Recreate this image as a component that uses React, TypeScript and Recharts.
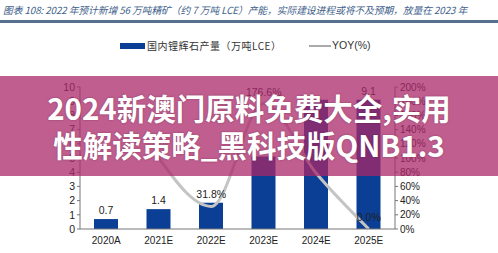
import { ComposedChart, Bar, Line, XAxis, YAxis, LabelList, Legend } from "recharts";

const years = ["2020A", "2021E", "2022E", "2023E", "2024E", "2025E"];
const output = [0.7, 1.4, 1.85, 5.1, 9.1, 9.1];
const yoy: (number | null)[] = [null, 100, 31.8, 176.6, 78.4, 0];
const showBarLabel = [true, true, false, false, false, true];
const showYoyLabel = [false, false, true, true, false, true];
const leftTicks = [0, 1, 2, 3, 4, 5, 6, 7, 8, 9, 10];
const rightTicks = [0, 20, 40, 60, 80, 100, 120, 140, 160, 180, 200];

const data = years.map((y, i) => ({
  year: y,
  output: output[i],
  yoy: yoy[i],
  barLabel: showBarLabel[i] ? output[i].toFixed(1) : "",
  yoyLabel: showYoyLabel[i] && yoy[i] != null ? `${(yoy[i] as number).toFixed(1)}%` : "",
}));

const BLUE = "#0b3f95";
const GREY = "#c4c4c4";
const FONT = "'Liberation Sans', Arial, sans-serif";
const CJK = "'Noto Sans CJK SC', sans-serif";

function LegendBox() {
  return (
    <div style={{ position: "relative", height: 16, fontSize: 10, color: "#333" }}>
      <div style={{ position: "absolute", left: 120, top: 5, width: 25, height: 6, background: BLUE }} />
      <span style={{ position: "absolute", left: 147, top: 0, fontFamily: CJK, letterSpacing: 0.5 }}>
        国内锂辉石产量（万吨LCE）
      </span>
      <div style={{ position: "absolute", left: 309, top: 7, width: 22, height: 1.5, background: "#aaa" }} />
      <span style={{ position: "absolute", left: 332, top: 1, fontFamily: FONT, fontSize: 10.5 }}>YOY(%)</span>
    </div>
  );
}

export default function App() {
  return (
    <div style={{ position: "absolute", left: 0, top: 0, width: 498, height: 253, background: "#fff", overflow: "hidden" }}>
      <div
        style={{
          position: "absolute",
          left: 3,
          top: 3,
          fontSize: 9.8,
          letterSpacing: -0.1,
          fontStyle: "italic",
          color: "#3f5f8c",
          fontFamily: CJK,
          whiteSpace: "nowrap",
        }}
      >
        图表 108: 2022 年预计新增 56 万吨精矿（约 7 万吨 LCE）产能，实际建设进程或将不及预期，放量在 2023 年
      </div>
      <div style={{ position: "absolute", left: 0, top: 20, width: 498, height: 2.5, background: "#56718f" }} />

      <ComposedChart
        width={498}
        height={253}
        data={data}
        margin={{ top: 71, right: 63, left: 40, bottom: 0 }}
        style={{ position: "absolute", left: 0, top: 0, fontFamily: FONT }}
      >
        <XAxis
          dataKey="year"
          height={24}
          tick={{ fontSize: 10, fill: "#222" }}
          tickLine={false}
          axisLine={{ stroke: "#777" }}
        />
        <YAxis
          yAxisId="left"
          width={40}
          domain={[0, 10]}
          ticks={leftTicks}
          interval={0}
          tick={{ fontSize: 10.5, fill: "#222" }}
          tickSize={3}
          tickLine={{ stroke: "#777" }}
          axisLine={{ stroke: "#777" }}
        />
        <YAxis
          yAxisId="right"
          orientation="right"
          width={40}
          domain={[0, 200]}
          ticks={rightTicks}
          interval={0}
          tickFormatter={(v) => `${v}%`}
          tick={{ fontSize: 10, fill: "#222" }}
          tickSize={3}
          tickLine={{ stroke: "#777" }}
          axisLine={{ stroke: "#777" }}
        />
        <Legend verticalAlign="top" wrapperStyle={{ top: 38, left: 0, width: 498 }} content={() => <LegendBox />} />
        <Bar yAxisId="left" dataKey="output" fill={BLUE} barSize={24} isAnimationActive={false}>
          <LabelList dataKey="barLabel" position="top" offset={5} style={{ fontSize: 10.5, fill: "#222" }} />
        </Bar>
        <Line
          yAxisId="right"
          type="monotone"
          dataKey="yoy"
          stroke={GREY}
          strokeWidth={3}
          dot={false}
          isAnimationActive={false}
        >
          <LabelList dataKey="yoyLabel" position="top" offset={8} style={{ fontSize: 10.5, fill: "#222" }} />
        </Line>
      </ComposedChart>

      <div
        style={{
          position: "absolute",
          left: 0,
          top: 76,
          width: 498,
          height: 100,
          background: "rgba(170,40,105,0.75)",
          color: "#fff",
          fontFamily: CJK,
          fontWeight: 700,
          fontSize: 29.5,
          lineHeight: "37px",
          textAlign: "center",
          paddingTop: 13,
          boxSizing: "border-box",
          whiteSpace: "nowrap",
          textShadow: "0 0 2px rgba(60,0,30,0.4)",
        }}
      >
        <div>2024新澳门原料免费大全,实用</div>
        <div>性解读策略_黑科技版QNB1.3</div>
      </div>
    </div>
  );
}
